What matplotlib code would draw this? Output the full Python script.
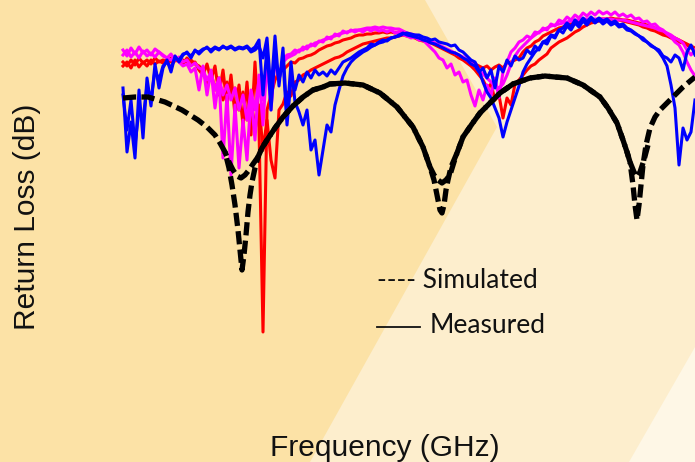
import numpy as np
import matplotlib
matplotlib.use("Agg")
import matplotlib.pyplot as plt
from matplotlib.patches import Polygon
from matplotlib.lines import Line2D

# measured sweep: 144 points between 2.46 and 13.9 GHz
freq_meas = np.linspace(2.46, 13.90, 144)

blue_a = [-8.8, -15.2, -12.2, -15.8, -9.0, -13.8, -7.8, -10.6, -6.4, -8.8,
          -6.8, -6.0, -7.2, -5.6, -6.2, -5.5, -5.2, -5.8, -5.0, -5.4,
          -5.0, -4.7, -5.2, -4.8, -5.0, -4.6, -4.9, -4.7, -5.0, -4.8,
          -4.9, -4.7, -5.2, -5.0, -4.6, -5.8, -3.8, -9.2, -3.6, -8.6,
          -4.8, -11.8, -6.2, -10.2, -11.2, -12.5, -11.0, -15.0, -14.0, -17.5,
          -15.0, -12.5, -13.2, -10.5, -9.0, -7.6, -6.8, -6.2, -5.8, -5.5,
          -5.2, -5.0, -4.7, -4.5, -4.3, -4.2, -4.0, -3.8, -3.7, -3.6,
          -3.4, -3.3, -3.4, -3.5, -3.5, -3.7, -3.8, -4.0, -3.9, -4.2,
          -4.3, -4.4, -4.6, -4.5, -5.0, -5.2, -5.6, -6.0, -6.2, -7.0,
          -8.2, -9.2, -9.8, -10.8, -11.8, -13.7, -12.2, -11.0, -9.8, -8.6,
          -7.2, -6.4, -5.8, -5.2, -4.8, -4.2, -4.0, -3.5, -3.6, -3.0,
          -2.8, -2.3, -2.7, -2.0, -2.4, -1.8, -2.2, -1.7, -2.1, -1.8,
          -2.1, -1.9, -2.3, -2.1, -2.5, -2.4, -2.8, -3.0, -3.3, -3.6,
          -3.8, -4.2, -4.5, -4.8, -5.2, -5.8, -6.6, -8.5, -10.8, -16.5,
          -12.8, -14.0, -13.2, -10.0]

blue_b = [-9.5, -13.0, -10.0, -14.5, -11.0, -12.0, -8.5, -10.0, -7.0, -8.0,
          -6.6, -6.2, -6.8, -5.8, -6.0, -5.4, -5.3, -5.6, -5.1, -5.2,
          -4.9, -4.8, -5.0, -4.7, -4.9, -4.7, -4.8, -4.6, -4.9, -4.7,
          -4.8, -4.6, -5.0, -4.7, -4.0, -9.5, -4.8, -11.0, -5.5, -8.0,
          -6.0, -12.5, -8.0, -9.0, -7.5, -8.2, -7.2, -7.8, -7.0, -7.5,
          -7.2, -7.6, -7.0, -7.4, -6.8, -6.2, -6.0, -5.8, -5.5, -5.2,
          -5.0, -4.8, -4.4, -4.5, -4.2, -4.0, -4.1, -3.8, -3.7, -3.5,
          -3.3, -3.5, -3.6, -3.7, -3.8, -4.0, -4.1, -4.3, -4.4, -4.6,
          -4.8, -5.0, -5.2, -5.3, -5.5, -5.8, -6.0, -6.4, -6.6, -7.2,
          -6.8, -7.8, -7.0, -8.8, -6.6, -7.2, -6.0, -6.6, -5.6, -6.0,
          -5.8, -5.0, -5.4, -4.6, -5.0, -4.2, -4.4, -3.6, -3.8, -3.0,
          -3.3, -2.6, -3.0, -2.3, -2.7, -2.1, -2.5, -1.9, -2.3, -2.0,
          -2.4, -2.1, -2.5, -2.3, -2.7, -2.6, -3.0, -3.1, -3.4, -3.6,
          -4.0, -4.2, -4.6, -4.8, -5.0, -5.6, -5.8, -6.2, -5.5, -5.8,
          -7.0, -5.2, -4.5, -5.5]

red_a = [-6.2, -6.6, -6.0, -6.5, -5.8, -6.3, -6.0, -6.4, -5.8, -6.2,
         -6.0, -6.2, -5.8, -6.1, -6.0, -6.4, -5.8, -6.3, -6.2, -7.0,
         -7.5, -6.4, -8.0, -6.6, -9.5, -7.0, -10.5, -7.5, -11.5, -8.5,
         -12.5, -8.2, -13.5, -6.2, -12.8, -33.2, -11.0, -9.5, -8.0, -7.2,
         -7.0, -6.6, -6.2, -6.3, -5.9, -5.8, -5.6, -5.5, -5.3, -5.0,
         -4.8, -4.6, -4.5, -4.3, -4.2, -4.0, -3.9, -3.8, -3.6, -3.5,
         -3.5, -3.4, -3.4, -3.3, -3.3, -3.2, -3.3, -3.2, -3.3, -3.2,
         -3.3, -3.4, -3.5, -3.6, -3.7, -3.8, -4.0, -4.2, -4.4, -4.6,
         -4.8, -5.0, -5.2, -5.3, -5.6, -5.8, -6.0, -6.3, -6.4, -6.6,
         -6.8, -6.6, -7.0, -6.7, -6.5, -6.8, -6.3, -6.2, -6.0, -5.8,
         -5.2, -4.8, -4.6, -4.2, -4.0, -3.6, -3.4, -3.2, -3.0, -2.8,
         -2.7, -2.5, -2.4, -2.3, -2.2, -2.1, -2.1, -2.0, -2.0, -1.9,
         -1.9, -1.9, -1.8, -1.9, -1.9, -2.0, -2.0, -2.1, -2.2, -2.3,
         -2.4, -2.5, -2.7, -2.8, -3.0, -3.2, -3.4, -3.6, -3.8, -4.0,
         -4.2, -4.4, -4.6, -4.8]

red_b = [-6.6, -6.2, -6.8, -6.0, -6.7, -6.2, -6.6, -6.0, -6.4, -6.1,
         -6.3, -6.0, -6.2, -5.9, -6.1, -6.0, -6.2, -6.0, -6.4, -6.6,
         -7.0, -8.5, -7.2, -9.0, -7.8, -10.0, -8.2, -9.5, -8.8, -11.0,
         -9.2, -12.0, -9.8, -13.0, -10.5, -15.0, -12.0, -16.0, -17.8, -11.0,
         -10.4, -9.2, -9.6, -8.2, -8.0, -7.5, -7.3, -7.0, -6.8, -6.6,
         -6.4, -6.2, -6.0, -5.8, -5.7, -5.5, -5.2, -5.0, -4.8, -4.6,
         -4.4, -4.3, -4.2, -4.1, -4.0, -3.9, -3.8, -3.8, -3.7, -3.6,
         -3.5, -3.6, -3.7, -3.8, -4.0, -4.1, -4.2, -4.3, -4.5, -4.7,
         -4.9, -5.1, -5.3, -5.5, -5.8, -6.0, -6.3, -6.6, -7.0, -7.5,
         -8.0, -8.8, -8.4, -10.0, -9.5, -11.8, -9.8, -10.5, -8.4, -8.0,
         -7.5, -7.0, -6.6, -6.4, -6.0, -5.7, -5.4, -4.8, -4.5, -4.2,
         -4.0, -3.8, -3.5, -3.2, -3.0, -2.7, -2.5, -2.3, -2.2, -2.1,
         -2.0, -2.0, -1.9, -2.0, -2.0, -2.1, -2.2, -2.3, -2.4, -2.5,
         -2.7, -2.8, -3.0, -3.1, -3.3, -3.5, -3.6, -3.8, -4.0, -4.2,
         -4.3, -4.5, -4.8, -5.0]

magenta_a = [-5.0, -5.6, -4.8, -5.4, -4.7, -5.3, -5.0, -5.5, -4.9, -5.2,
             -5.5, -5.8, -6.0, -5.6, -6.2, -6.6, -6.4, -7.2, -6.8, -9.0,
             -6.6, -9.5, -7.0, -10.8, -7.8, -15.8, -9.5, -17.5, -10.5, -16.8,
             -12.0, -16.0, -9.5, -14.0, -7.5, -12.5, -6.0, -11.0, -5.8, -8.0,
             -6.0, -5.5, -5.4, -5.0, -5.2, -4.7, -4.9, -4.4, -4.6, -4.1,
             -4.2, -3.7, -3.9, -3.4, -3.6, -3.1, -3.3, -3.0, -3.2, -3.0,
             -3.2, -2.9, -3.1, -2.9, -3.1, -3.0, -3.2, -3.0, -3.3, -3.2,
             -3.5, -3.6, -3.8, -3.7, -4.0, -4.0, -4.4, -4.8, -5.2, -5.8,
             -6.0, -6.8, -6.4, -7.5, -7.2, -8.2, -8.0, -9.5, -10.6, -9.0,
             -10.0, -8.5, -9.5, -7.8, -9.8, -7.2, -6.2, -5.2, -4.8, -4.2,
             -4.0, -3.6, -3.8, -3.2, -3.3, -2.8, -3.0, -2.4, -2.6, -2.0,
             -2.2, -1.7, -2.0, -1.5, -1.8, -1.3, -1.6, -1.2, -1.5, -1.1,
             -1.4, -1.2, -1.5, -1.2, -1.6, -1.4, -1.7, -1.5, -1.9, -1.8,
             -2.2, -2.1, -2.5, -2.4, -2.8, -3.0, -3.4, -3.7, -4.2, -4.5,
             -5.2, -6.2, -7.0, -7.6]

magenta_b = [-5.5, -5.0, -5.7, -5.2, -5.8, -5.1, -5.6, -5.3, -5.7, -5.2,
             -5.6, -5.8, -5.4, -6.0, -5.7, -6.2, -6.0, -6.6, -6.3, -6.8,
             -7.0, -8.0, -7.2, -9.0, -7.8, -9.5, -8.5, -10.0, -8.8, -11.0,
             -9.5, -12.0, -9.0, -11.0, -8.0, -10.0, -7.0, -8.5, -6.5, -7.5,
             -6.2, -5.8, -5.6, -5.4, -5.0, -5.0, -4.6, -4.6, -4.3, -4.2,
             -4.0, -3.9, -3.7, -3.6, -3.4, -3.3, -3.2, -3.1, -3.0, -3.0,
             -2.9, -2.8, -2.8, -2.7, -2.8, -2.7, -2.8, -2.8, -2.9, -2.9,
             -3.1, -3.3, -3.4, -3.5, -3.6, -3.8, -3.9, -4.1, -4.3, -4.5,
             -4.7, -4.9, -5.1, -5.3, -5.5, -5.7, -6.0, -6.3, -6.6, -7.0,
             -7.4, -7.8, -8.2, -8.6, -8.8, -8.4, -7.5, -6.4, -5.6, -5.0,
             -4.6, -4.2, -3.8, -3.5, -3.2, -3.0, -2.8, -2.6, -2.5, -2.4,
             -2.3, -2.2, -2.1, -2.0, -2.0, -1.9, -1.9, -1.9, -1.9, -1.9,
             -1.9, -1.9, -1.9, -2.0, -2.0, -2.0, -2.1, -2.2, -2.3, -2.4,
             -2.5, -2.6, -2.7, -2.8, -3.0, -3.1, -3.3, -3.5, -3.8, -4.0,
             -4.3, -5.0, -5.5, -5.0]

# simulated curves (GHz, dB)
freq_sim_a = [2.46, 2.70, 2.96, 3.30, 3.64, 3.96, 4.14, 4.30, 4.40, 4.50,
              4.58, 4.64, 4.70, 4.76, 4.80, 4.84, 4.88, 4.92, 4.96, 5.00,
              5.04, 5.10, 5.16, 5.24, 5.34, 5.50, 5.66, 5.86, 6.06, 6.26,
              6.46, 6.60, 6.90, 7.26, 7.60, 7.94, 8.26, 8.46, 8.60, 8.68,
              8.74, 8.80, 8.84, 8.88, 8.92, 8.96, 9.02, 9.14, 9.26, 9.44,
              9.60, 9.80, 10.00, 10.26, 10.60, 10.90, 11.10, 11.34, 11.66, 12.00,
              12.16, 12.34, 12.46, 12.54, 12.60, 12.66, 12.70, 12.74, 12.78, 12.82,
              12.86, 12.92, 13.00, 13.10, 13.20, 13.40, 13.66, 13.90]
sim_a = [-9.8, -9.7, -9.7, -10.2, -11.0, -12.0, -12.7, -13.5, -14.3, -15.2,
         -16.8, -18.5, -20.5, -23.0, -25.0, -27.0, -25.5, -23.5, -21.2, -19.5,
         -18.2, -16.8, -15.7, -14.8, -14.0, -12.8, -11.7, -10.6, -9.7, -9.0,
         -8.7, -8.4, -8.3, -8.5, -9.3, -10.7, -12.7, -14.7, -16.7, -18.0,
         -19.5, -21.0, -21.3, -20.5, -19.0, -18.0, -16.7, -15.3, -13.7, -12.4,
         -11.3, -10.3, -9.3, -8.4, -7.8, -7.6, -7.7, -7.8, -8.5, -9.7,
         -10.8, -12.3, -14.0, -15.2, -16.2, -18.5, -20.5, -22.0, -20.5, -18.5,
         -16.5, -14.5, -12.8, -11.7, -11.0, -10.0, -8.7, -7.7]

freq_sim_b = [4.50, 4.58, 4.66, 4.74, 4.82, 4.90, 4.98, 5.06, 5.16, 5.24,
              5.34, 5.50, 5.66, 5.86, 6.06, 6.26, 6.46, 6.60, 6.90, 7.26,
              7.60, 7.94, 8.26, 8.46, 8.60, 8.68, 8.76, 8.84, 8.92, 9.00,
              9.08, 9.14, 9.26, 9.44, 9.60, 9.80, 10.00, 10.26, 10.60, 10.90,
              11.10, 11.34, 11.66, 12.00, 12.16, 12.34, 12.46, 12.54, 12.60, 12.68,
              12.74, 12.80, 12.88, 12.96]
sim_b = [-15.2, -16.2, -17.0, -17.6, -17.8, -17.5, -17.0, -16.4, -15.7, -14.8,
         -14.0, -12.8, -11.7, -10.6, -9.7, -9.0, -8.7, -8.4, -8.3, -8.5,
         -9.3, -10.7, -12.7, -14.7, -16.7, -17.5, -18.0, -18.3, -18.0, -17.5,
         -16.2, -15.3, -13.7, -12.4, -11.3, -10.3, -9.3, -8.4, -7.8, -7.6,
         -7.7, -7.8, -8.5, -9.7, -10.8, -12.3, -14.0, -15.2, -16.2, -17.2,
         -17.7, -17.2, -16.0, -14.5]

W, H = 695, 462
fig = plt.figure(figsize=(W / 100, H / 100), dpi=100)
fig.patch.set_facecolor('#fce2a6')


def fpoly(pts, color):
    # background wedge, pts in pixels from the top-left corner
    xy = [(x / W, 1 - y / H) for x, y in pts]
    fig.add_artist(Polygon(xy, closed=True, transform=fig.transFigure,
                           facecolor=color, edgecolor='none', zorder=0))


fpoly([(425, 0), (695, 0), (695, 462), (310, 462), (497, 127)], '#fdeecd')
fpoly([(629, 462), (695, 347), (695, 462)], '#fef7e6')

ax = fig.add_axes([0, 0, 1, 1])
ax.set_axis_off()
ax.set_xlim(0, 13.9)
ax.set_ylim(-46.2, 0)

lw = 2.2
ax.plot(freq_meas, red_b, color='#ff0000', lw=lw)
ax.plot(freq_meas, red_a, color='#ff0000', lw=lw)
ax.plot(freq_meas, magenta_b, color='#ff00ff', lw=lw)
ax.plot(freq_meas, magenta_a, color='#ff00ff', lw=lw)
ax.plot(freq_meas, blue_b, color='#0000ff', lw=lw)
ax.plot(freq_meas, blue_a, color='#0000ff', lw=lw)

ax.plot(freq_sim_a, sim_a, color='black', lw=3.8, linestyle=(0, (2.5, 1.0)))
ax.plot(freq_sim_b, sim_b, color='black', lw=3.8, linestyle=(1.7, (2.5, 1.0)))

txt = '#111111'
fig.text(27 / W, 1 - 217 / H, "Return Loss (dB)", rotation=90, ha='center', va='center',
         fontsize=21.5, family='Liberation Sans', color=txt)
fig.text(385 / W, 1 - 456 / H, "Frequency (GHz)", ha='center', va='baseline',
         fontsize=21.5, family='Liberation Sans', color=txt)
fig.text(377 / W, 1 - 288 / H, "---- Simulated", ha='left', va='baseline',
         fontsize=19, family='Lato', color=txt)
fig.add_artist(Line2D([377 / W, 420 / W], [1 - 327 / H, 1 - 327 / H],
                      transform=fig.transFigure, color=txt, lw=1.3))
fig.text(430 / W, 1 - 333 / H, "Measured", ha='left', va='baseline',
         fontsize=19, family='Lato', color=txt)

fig.savefig('out.png', dpi=100, facecolor=fig.get_facecolor())
